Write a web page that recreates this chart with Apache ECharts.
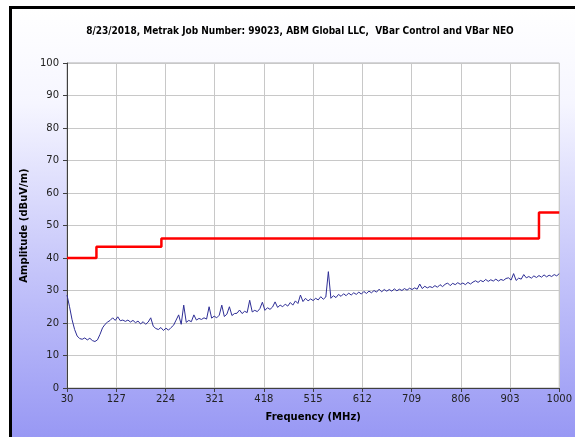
<!DOCTYPE html>
<html>
<head>
<meta charset="utf-8">
<script src="https://cdn.jsdelivr.net/npm/echarts@6/dist/echarts.min.js"></script>
<style>
  html, body { margin: 0; padding: 0; background: #fff; overflow: hidden; }
  #cadre {
    position: absolute; left: 9px; top: 6px; width: 566px; height: 431px;
    border-top: 3px solid #000; border-left: 3px solid #000;
    box-sizing: border-box;
    background: linear-gradient(to bottom, #ffffff 0%, #f6f6ff 22%, #c4c4fa 62%, #9898f4 100%);
  }
  #grafico { position: absolute; left: 0; top: 0; width: 575px; height: 437px; }
</style>
</head>
<body>
<div id="cadre"></div>
<div id="grafico"></div>
<script>
// Linha limite (FCC), degraus
const limiteFreq = [30, 88, 216, 960, 1000];
const limiteAmp = [40, 43.5, 46, 54, 54];

const medFreq = [
  30, 35, 40, 45, 50, 55, 60, 65, 70, 75, 80, 85, 90, 95, 100, 105, 110, 115, 120, 125,
  130, 135, 140, 145, 150, 155, 160, 165, 170, 175, 180, 185, 190, 195, 200, 205, 210, 215, 220, 225,
  230, 235, 240, 245, 250, 255, 260, 265, 270, 275, 280, 285, 290, 295, 300, 305, 310, 315, 320, 325,
  330, 335, 340, 345, 350, 355, 360, 365, 370, 375, 380, 385, 390, 395, 400, 405, 410, 415, 420, 425,
  430, 435, 440, 445, 450, 455, 460, 465, 470, 475, 480, 485, 490, 495, 500, 505, 510, 515, 520, 525,
  530, 535, 540, 545, 550, 555, 560, 565, 570, 575, 580, 585, 590, 595, 600, 605, 610, 615, 620, 625,
  630, 635, 640, 645, 650, 655, 660, 665, 670, 675, 680, 685, 690, 695, 700, 705, 710, 715, 720, 725,
  730, 735, 740, 745, 750, 755, 760, 765, 770, 775, 780, 785, 790, 795, 800, 805, 810, 815, 820, 825,
  830, 835, 840, 845, 850, 855, 860, 865, 870, 875, 880, 885, 890, 895, 900, 905, 910, 915, 920, 925,
  930, 935, 940, 945, 950, 955, 960, 965, 970, 975, 980, 985, 990, 995, 1000
];
const medAmp = [
  28.6, 25.0, 21.0, 18.0, 16.0, 15.2, 15.0, 15.4, 14.8, 15.3, 14.6, 14.3, 14.8, 16.5, 18.5, 19.6, 20.3, 20.8, 21.6, 20.8,
  21.9, 20.7, 20.9, 20.5, 20.9, 20.3, 20.8, 20.1, 20.6, 19.7, 20.4, 19.6, 20.3, 21.6, 19.0, 18.3, 18.0, 18.6, 17.7, 18.4,
  17.8, 18.6, 19.3, 20.9, 22.5, 19.6, 25.5, 20.2, 20.8, 20.4, 22.5, 20.9, 21.4, 21.1, 21.6, 21.2, 25.0, 21.5, 22.1, 21.6,
  22.4, 25.5, 22.0, 22.7, 25.0, 22.3, 22.9, 23.0, 24.0, 22.9, 23.6, 23.2, 27.0, 23.4, 23.9, 23.5, 24.4, 26.4, 23.9, 24.7,
  24.2, 24.9, 26.5, 24.8, 25.5, 25.0, 25.8, 25.2, 26.3, 25.5, 26.8, 26.0, 28.6, 26.6, 27.6, 26.8, 27.4, 26.9, 27.6, 27.1,
  28.1, 27.3, 28.0, 35.8, 27.6, 28.4, 27.8, 28.8, 28.2, 29.0, 28.4, 29.2, 28.6, 29.3, 28.8, 29.5, 28.9, 29.7, 29.1, 29.8,
  29.3, 30.0, 29.5, 30.4, 29.6, 30.3, 29.8, 30.3, 29.8, 30.5, 29.9, 30.4, 30.0, 30.6, 30.1, 30.7, 30.3, 30.8, 30.4, 32.0,
  30.6, 31.3, 30.8, 31.2, 30.9, 31.5, 31.0, 31.8, 31.2, 31.9, 32.3, 31.5, 32.2, 31.8, 32.4, 31.9, 32.3, 31.8, 32.5, 32.0,
  32.6, 33.0, 32.5, 33.1, 32.7, 33.4, 32.8, 33.3, 32.9, 33.5, 32.9, 33.4, 33.1, 33.7, 33.9, 33.2, 35.2, 33.1, 33.8, 33.5,
  34.9, 33.9, 34.3, 33.8, 34.5, 34.0, 34.6, 34.1, 34.8, 34.2, 34.7, 34.3, 34.9, 34.5, 35.2
];

// Rótulos do eixo X: 30, 127, ... 1000 (passo 97)
const inicioFreq = 30;
const passoFreq = 97;

const meuGrafico = echarts.init(document.getElementById('grafico'));

// O eixo é deslocado de 30 MHz para que min seja múltiplo do intervalo
const pontosLimite = limiteFreq.map((f, i) => [f - inicioFreq, limiteAmp[i]]);
const pontosMedidos = medFreq.map((f, i) => [f - inicioFreq, medAmp[i]]);

const fonte = 'Tahoma, "DejaVu Sans", sans-serif';

meuGrafico.setOption({
  animation: false,
  backgroundColor: 'transparent',
  title: {
    text: '8/23/2018, Metrak Job Number: 99023, ABM Global LLC,  VBar Control and VBar NEO',
    left: 295, top: 21, textAlign: 'center',
    textStyle: { fontFamily: '"DejaVu Sans Condensed", sans-serif', fontSize: 10, fontWeight: 'bold', color: '#000' }
  },
  grid: { left: 67, right: 12, top: 63, bottom: 49, show: true, backgroundColor: '#fff', borderColor: '#b0b0b0', borderWidth: 1 },
  xAxis: {
    type: 'value', min: 0, max: 970, interval: passoFreq,
    name: 'Frequency (MHz)', nameLocation: 'middle', nameGap: 24,
    nameTextStyle: { fontFamily: fonte, fontSize: 10, fontWeight: 'bold', color: '#000' },
    axisLine: { lineStyle: { color: '#404040', width: 1 } },
    axisTick: { show: true, length: 4, lineStyle: { color: '#404040' } },
    axisLabel: { fontFamily: fonte, fontSize: 10, color: '#222', margin: 6, formatter: v => String(v + inicioFreq) },
    splitLine: { lineStyle: { color: '#c8c8c8', width: 1 } }
  },
  yAxis: {
    type: 'value', min: 0, max: 100, interval: 10,
    name: 'Amplitude (dBuV/m)', nameLocation: 'middle', nameGap: 24,
    nameTextStyle: { fontFamily: fonte, fontSize: 10, fontWeight: 'bold', color: '#000' },
    axisLine: { show: true, lineStyle: { color: '#404040', width: 1 } },
    axisTick: { show: true, length: 4, lineStyle: { color: '#404040' } },
    axisLabel: { fontFamily: fonte, fontSize: 10, color: '#222', margin: 8 },
    splitLine: { lineStyle: { color: '#c8c8c8', width: 1 } }
  },
  series: [
    {
      name: 'Limite', type: 'line', step: 'end', data: pontosLimite,
      showSymbol: false, lineStyle: { color: '#ff0000', width: 2.5 }, z: 3
    },
    {
      name: 'Medido', type: 'line', data: pontosMedidos,
      showSymbol: false, lineStyle: { color: '#2e2e96', width: 1 }, z: 4
    }
  ]
});
</script>
</body>
</html>
